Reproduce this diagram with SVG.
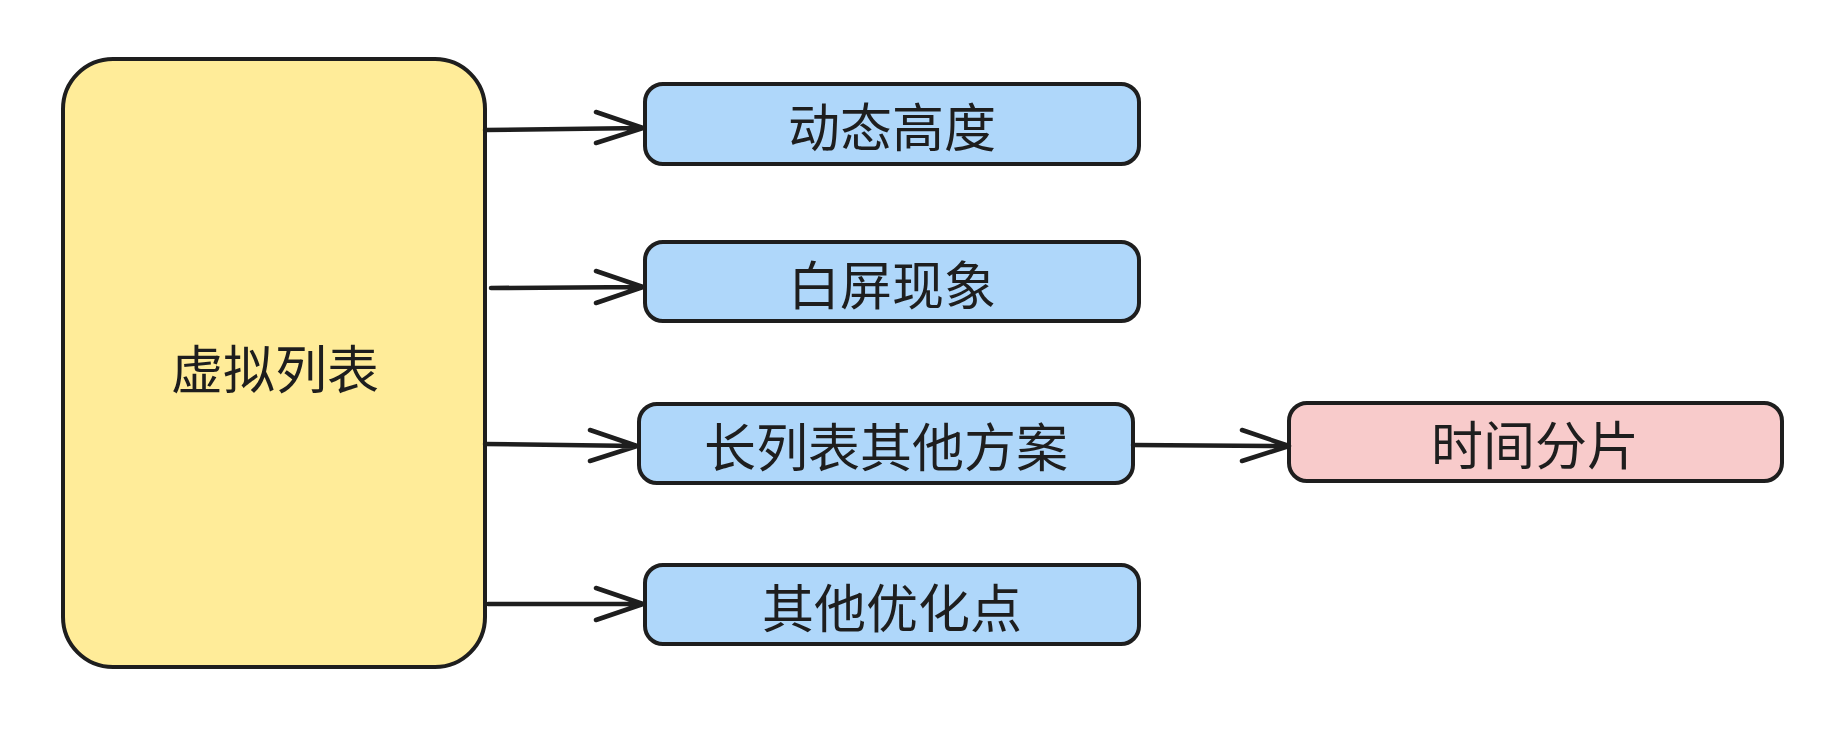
<svg xmlns="http://www.w3.org/2000/svg" width="1832" height="734" viewBox="0 0 1832 734">
<style>
.box{stroke:#1e1e1e;stroke-width:4;stroke-linejoin:round}
.y{fill:#ffec99}.b{fill:#afd7fa}.p{fill:#f8cbcb}
.t{font-family:"Noto Sans CJK SC","Noto Sans",sans-serif;font-size:52px;fill:#1e1e1e;text-anchor:middle;dominant-baseline:central}
.c{fill:none;stroke:#1e1e1e;stroke-width:4.5;stroke-linecap:round;stroke-linejoin:round}
</style>
<rect width="1832" height="734" fill="#ffffff"/>
<g id="node-main">
<rect class="box y" x="63" y="59" width="422" height="608" rx="50"/>
<text class="t" x="275" y="366">虚拟列表</text>
</g>
<g id="node-dynamic-height">
<rect class="box b" x="645" y="84" width="494" height="80" rx="18"/>
<text class="t" x="892" y="124">动态高度</text>
</g>
<g id="node-white-screen">
<rect class="box b" x="645" y="242" width="494" height="79" rx="18"/>
<text class="t" x="892" y="282">白屏现象</text>
</g>
<g id="node-other-solutions">
<rect class="box b" x="639" y="404" width="494" height="79" rx="18"/>
<text class="t" x="886" y="444">长列表其他方案</text>
</g>
<g id="node-time-slicing">
<rect class="box p" x="1289" y="403" width="493" height="78" rx="18"/>
<text class="t" x="1535" y="442">时间分片</text>
</g>
<g id="node-other-optimizations">
<rect class="box b" x="645" y="565" width="494" height="79" rx="18"/>
<text class="t" x="892" y="605">其他优化点</text>
</g>
<g id="connectors">
<path class="c" d="M485 130 L643 128 M596 112 L643 128 L596 143"/>
<path class="c" d="M491 288 L643 287 M596 271 L643 287 L596 303"/>
<path class="c" d="M485 444 L637 446 M590 430 L637 446 L590 461"/>
<path class="c" d="M1133 445 L1289 446 M1242 430 L1289 446 L1242 461"/>
<path class="c" d="M488 604 L643 604 M596 588 L643 604 L596 620"/>
</g>
</svg>
